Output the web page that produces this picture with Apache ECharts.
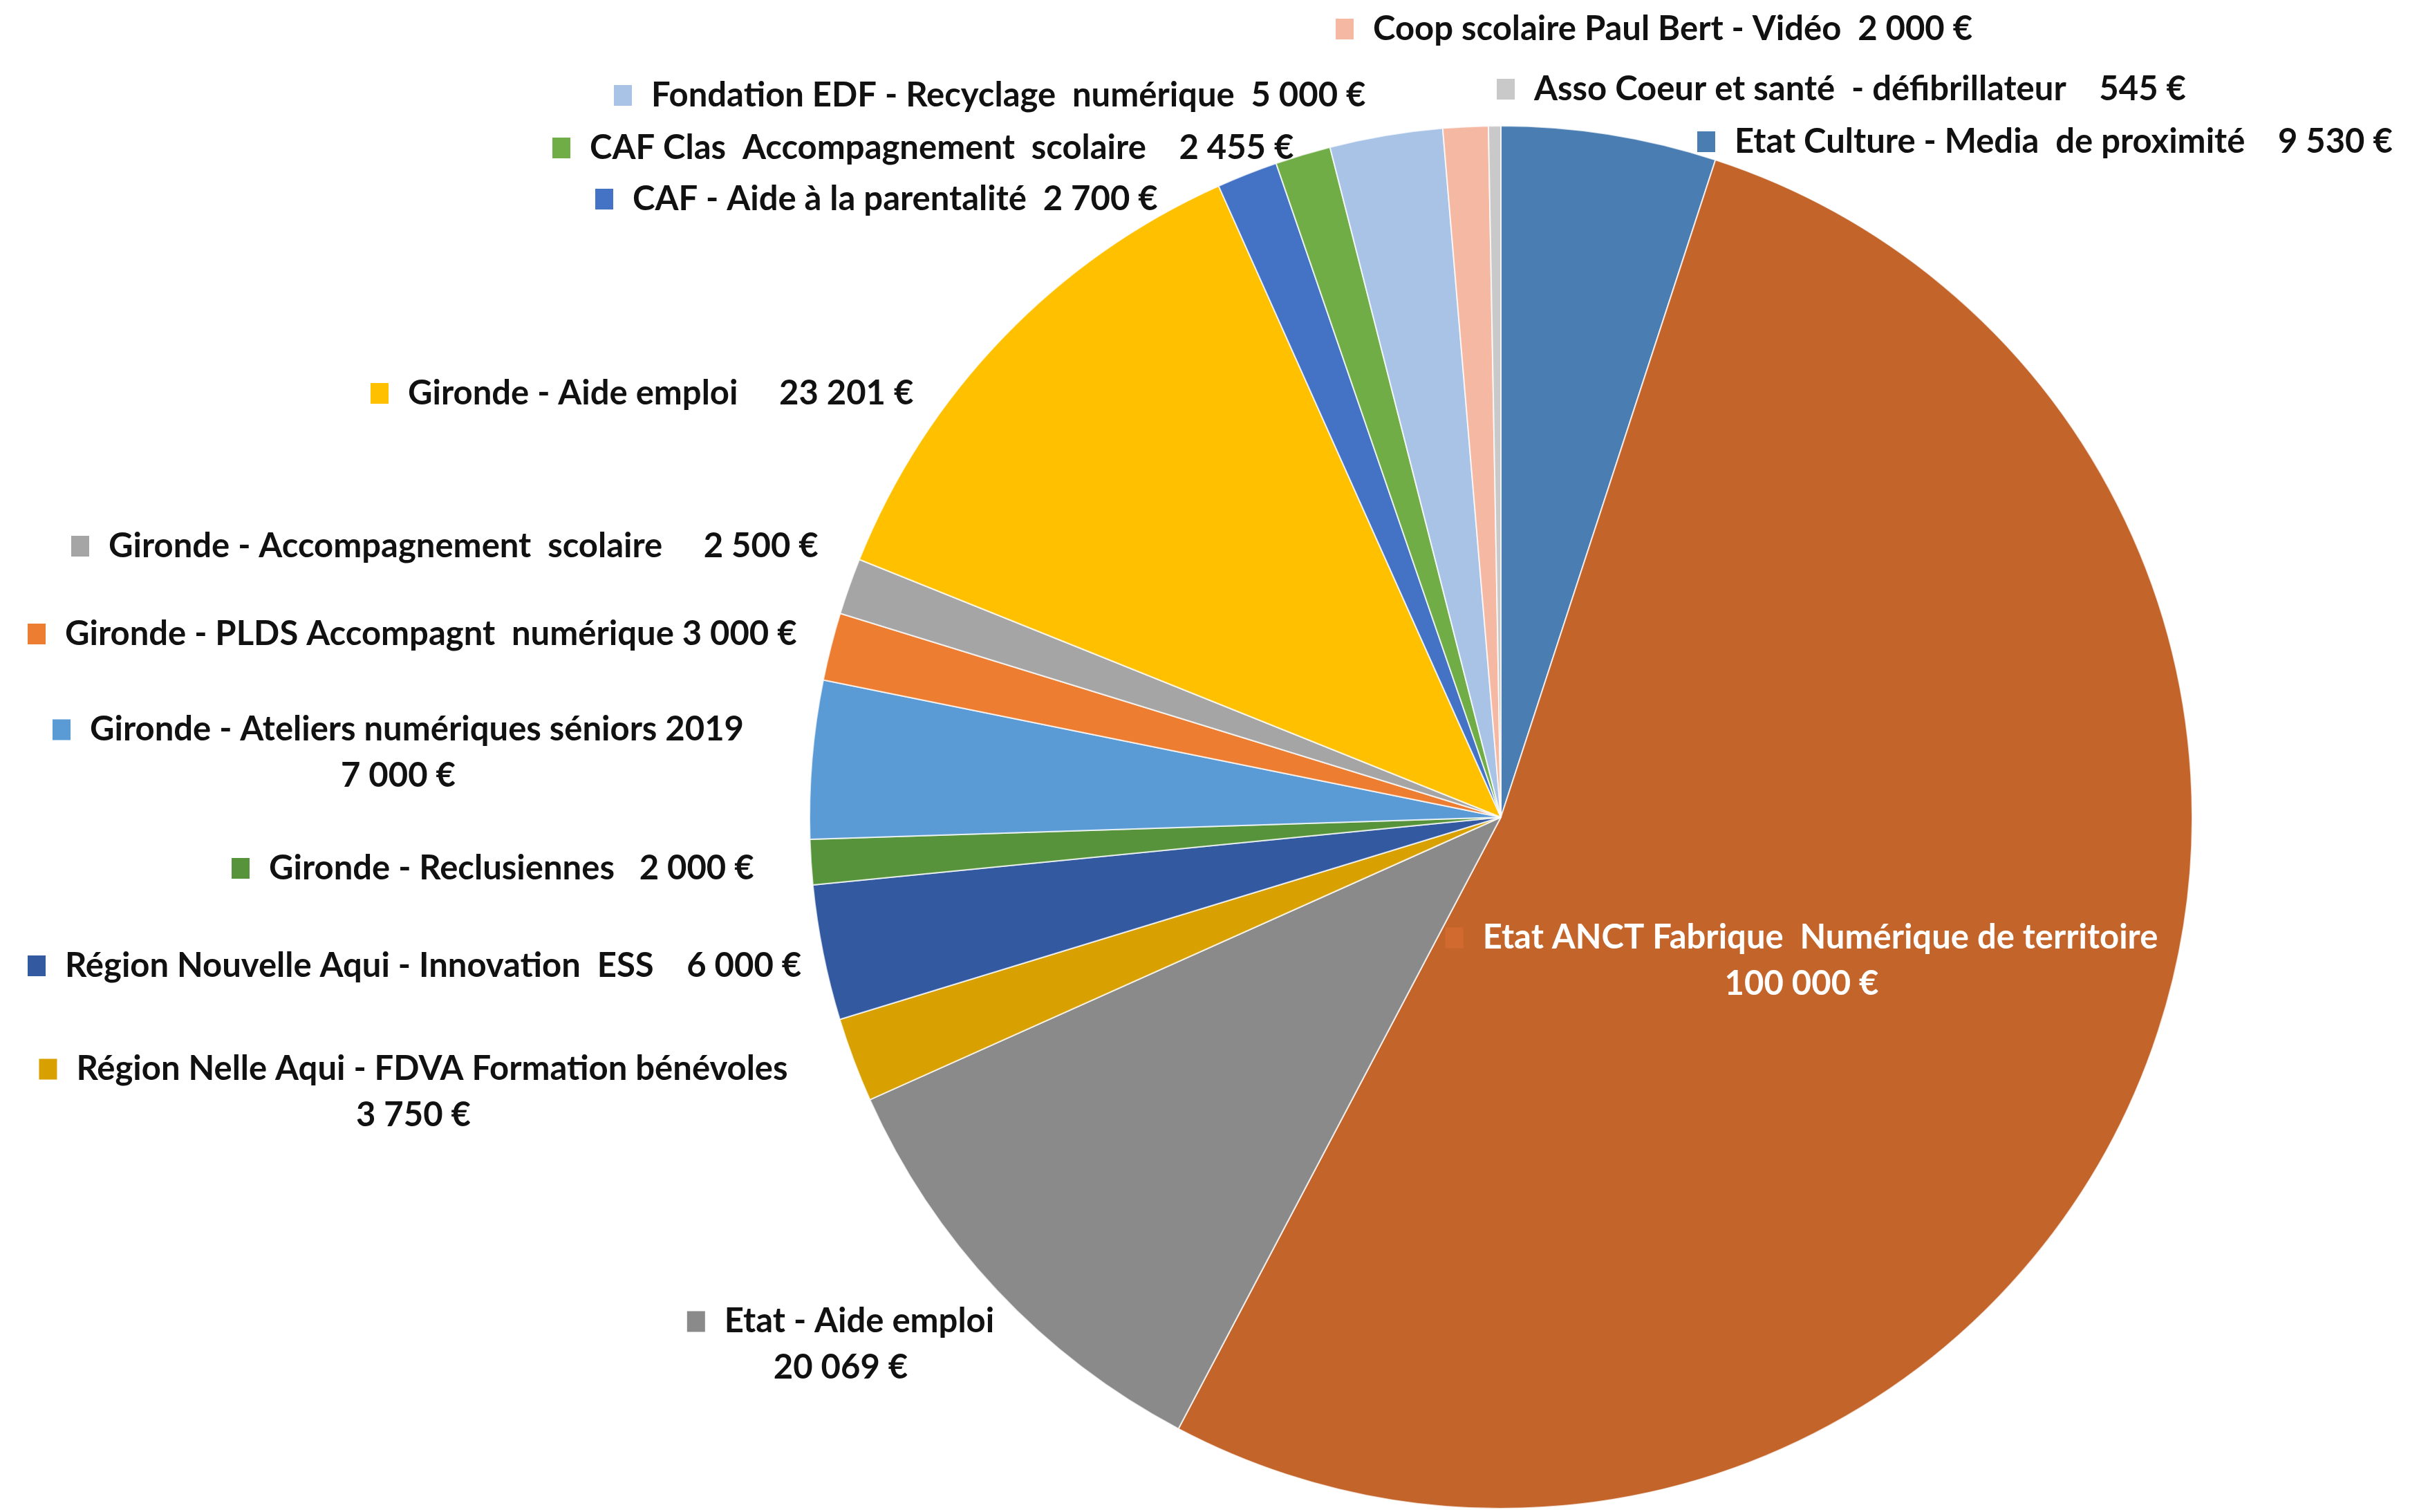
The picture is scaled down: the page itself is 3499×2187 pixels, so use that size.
<!DOCTYPE html>
<html>
<head>
<meta charset="utf-8">
<script src="https://cdn.jsdelivr.net/npm/echarts@6/dist/echarts.min.js"></script>
<style>
html,body{margin:0;padding:0;background:#fff;}
#chart{width:3499px;height:2187px;}
</style>
</head>
<body>
<div id="chart"></div>
<script>
// ---- data ----
const names = [
  "Etat Culture - Media  de proximité",
  "Etat ANCT Fabrique  Numérique de territoire",
  "Etat - Aide emploi",
  "Région Nelle Aqui - FDVA Formation bénévoles",
  "Région Nouvelle Aqui - Innovation  ESS",
  "Gironde - Reclusiennes",
  "Gironde - Ateliers numériques séniors 2019",
  "Gironde - PLDS Accompagnt  numérique",
  "Gironde - Accompagnement  scolaire",
  "Gironde - Aide emploi",
  "CAF - Aide à la parentalité",
  "CAF Clas  Accompagnement  scolaire",
  "Fondation EDF - Recyclage  numérique",
  "Coop scolaire Paul Bert - Vidéo",
  "Asso Coeur et santé  - défibrillateur"
];
const values = [9530, 100000, 20069, 3750, 6000, 2000, 7000, 3000, 2500, 23201, 2700, 2455, 5000, 2000, 545];
const separators = ["    ", "\n", "\n", "\n", "    ", "   ", "\n", " ", "     ", "     ", "  ", "    ", "  ", "  ", "    "];

// ---- styles ----
const colors = ["#4a7db2", "#c3642b", "#8a8a8a", "#d8a000", "#335aa0", "#56933a", "#5b9bd5", "#ed7d31", "#a5a5a5", "#ffc000", "#4472c4", "#70ad47", "#a9c3e6", "#f4b8a3", "#c9c9c9"];
// label anchor [x, y, align] in px
const labelPos = [
  [2455, 205, "left"],
  [2606, 1390, "center"],
  [1216, 1945, "center"],
  [598, 1580, "center"],
  [40, 1397, "left"],
  [335, 1256, "left"],
  [576, 1089, "center"],
  [40, 917, "left"],
  [103, 790, "left"],
  [536, 569, "left"],
  [861, 288, "left"],
  [799, 214, "left"],
  [888, 138, "left"],
  [1932, 42, "left"],
  [2165, 129, "left"]
];

function fmt(v) {
  return v.toString().replace(/\B(?=(\d{3})+(?!\d))/g, " ") + " €";
}

const FONT = "Lato";
const FS = 49;
const LH = 67;
const rich = {
  t: { fontFamily: FONT, fontWeight: "bold", fontSize: FS, color: "#111", lineHeight: LH, padding: [0, 0, 0, 28] },
  v: { fontFamily: FONT, fontWeight: "bold", fontSize: FS, color: "#111", lineHeight: LH },
  tw: { fontFamily: FONT, fontWeight: "bold", fontSize: FS, color: "#fff", lineHeight: LH, padding: [0, 0, 0, 28] },
  vw: { fontFamily: FONT, fontWeight: "bold", fontSize: FS, color: "#fff", lineHeight: LH }
};
colors.forEach((c, i) => {
  rich["m" + i] = { width: 26, height: 30, backgroundColor: i === 1 ? "#d06a2e" : c };
});

const data = names.map((n, i) => ({ name: n, value: values[i], itemStyle: { color: colors[i] } }));

const chart = echarts.init(document.getElementById("chart"), null, { renderer: "canvas" });
chart.setOption({
  animation: false,
  backgroundColor: "#ffffff",
  series: [{
    type: "pie",
    center: [2171, 1182],
    radius: [0, 1000],
    startAngle: 90,
    clockwise: true,
    avoidLabelOverlap: false,
    data: data,
    itemStyle: { borderColor: "rgba(255,255,255,0.75)", borderWidth: 2 },
    labelLine: { show: false },
    label: {
      show: true,
      position: "outside",
      rich: rich,
      formatter: function (p) {
        const i = p.dataIndex;
        const sep = separators[i];
        const white = i === 1;
        const tk = white ? "tw" : "t";
        const vk = white ? "vw" : "v";
        if (sep === "\n") {
          return "{m" + i + "|}{" + tk + "|" + names[i] + "}\n{" + vk + "|" + fmt(values[i]) + "}";
        }
        return "{m" + i + "|}{" + tk + "|" + names[i] + sep + fmt(values[i]) + "}";
      }
    },
    labelLayout: function (params) {
      const p = labelPos[params.dataIndex];
      return { x: p[0], y: p[1], align: p[2], verticalAlign: "middle" };
    },
    emphasis: { disabled: true }
  }]
});
</script>
</body>
</html>
